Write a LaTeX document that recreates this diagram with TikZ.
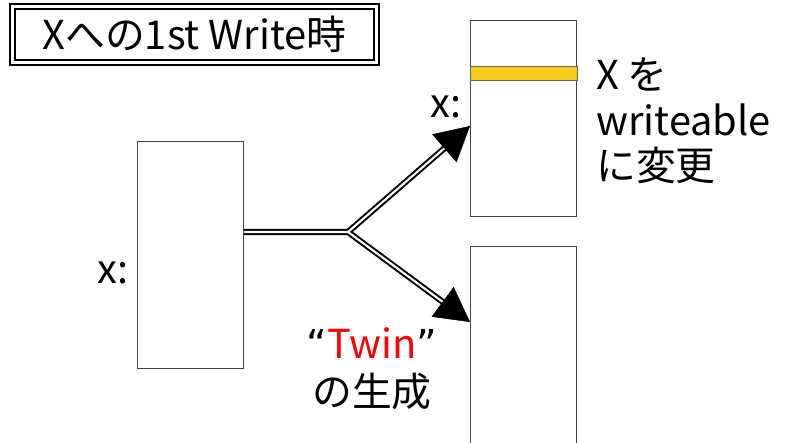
\documentclass[tikz,border=0pt]{standalone}
\usepackage{fontspec}
\setmainfont{Noto Sans CJK JP}
\newfontfamily\quotefont{DejaVu Sans}
\usetikzlibrary{calc,arrows.meta}
\newcommand\labelfont{\fontsize{34}{39}\selectfont}
\tikzset{%
  mem/.style={draw=black!75,line width=0.8pt,fill=white,anchor=north west,
    minimum width=3.18cm,inner sep=0pt},
  band/.style={fill=yellow!60!orange!90,draw=black!60,line width=0.4pt},
  dbl/.style={double,double distance=1.8pt,line width=1.7pt},
  tip/.style={-{Triangle[length=1.02cm,width=1.11cm]},line width=0.4pt},
  lbl/.style={inner sep=0pt,font=\labelfont},
  title/.style={draw,double,double distance=3pt,line width=1.4pt,
    minimum width=10.92cm,minimum height=1.69cm,inner sep=0pt,font=\labelfont}
}

\begin{document}
\begin{tikzpicture}[x=0.03cm,y=-0.03cm]
  \useasboundingbox (0,0) rectangle (785,442);
  \node[title] (ttl) at (194.5,34.5) {Xへの1st Write時};
  %% pages
  \node[mem,minimum height=6.81cm] (src) at (137,141) {};
  \node[mem,minimum height=5.88cm] (wr) at (470,20) {};
  \node[mem,minimum height=6.3cm] (twin) at (470,246) {};
  \draw[band] ($(wr.north west)+(0,46)$) rectangle ($(wr.north east)+(0,60)$);
  %% labels
  \node[lbl] (xs) at (113,273) {x:};
  \node[lbl] (xw) at (446,107) {x:};
  \node[lbl,align=left,anchor=west] (note) at (596,121) {X を\\writeable\\に変更};
  \node[lbl,align=center] (tw) at (372,369)
    {{\quotefont“}\textcolor{red}{Twin}{\quotefont”}\\[2pt]の生成};
  %% copy arrows
  \coordinate (jn) at (348,232);
  \coordinate (tipA) at (470,126);
  \coordinate (tipB) at (470,322);
  \coordinate (endA) at ($(tipA)!0.95cm!(jn)$);
  \coordinate (endB) at ($(tipB)!0.95cm!(jn)$);
  \draw[dbl] (src.east |- jn) -- (jn) -- (endA) (jn) -- (endB);
  \draw[tip] ($(tipA)!1.02cm!(jn)$) -- (tipA);
  \draw[tip] ($(tipB)!1.02cm!(jn)$) -- (tipB);
\end{tikzpicture}
\end{document}
